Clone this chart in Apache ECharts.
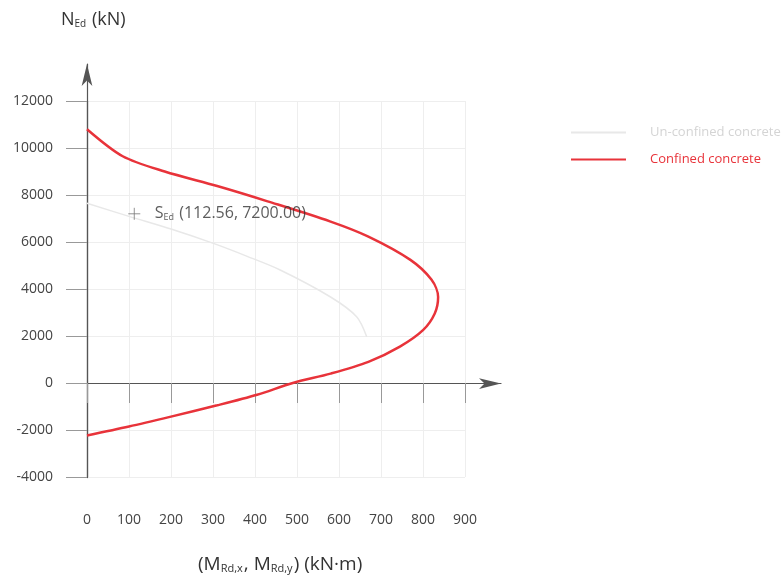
<!DOCTYPE html>
<html>
<head>
<meta charset="utf-8">
<script src="https://cdn.jsdelivr.net/npm/echarts@6/dist/echarts.min.js"></script>
<style>
html,body{margin:0;padding:0;background:#fff;}
#c{width:781px;height:580px;}
</style>
</head>
<body>
<div id="c"></div>
<script>
// Data (M in kN·m, N in kN)
const confinedM = [0, 85, 185, 310, 430, 580, 670, 770, 820, 836, 828, 800, 745, 670, 580, 490, 405, 310, 200, 100, 0];
const confinedN = [10800, 9650, 9000, 8380, 7730, 6870, 6230, 5240, 4400, 3660, 2960, 2250, 1550, 900, 400, 0, -500, -950, -1430, -1850, -2230];
const unconfinedM = [0, 102, 200, 301, 380, 460, 579, 642, 666];
const unconfinedN = [7650, 7080, 6550, 5940, 5400, 4810, 3670, 2820, 1970];
const pointSEd = [112.56, 7200.00];
const xTicks = [0, 100, 200, 300, 400, 500, 600, 700, 800, 900];
const yTicks = [-4000, -2000, 0, 2000, 4000, 6000, 8000, 10000, 12000];
const seriesNames = ['Un-confined concrete', 'Confined concrete'];

const zip = (a, b) => a.map((v, i) => [v, b[i]]);
const FONT = '"Open Sans", "Noto Sans", sans-serif';

const chart = echarts.init(document.getElementById('c'), null, {renderer: 'canvas'});
chart.setOption({
  backgroundColor: '#fff',
  animation: false,
  textStyle: {fontFamily: FONT},
  title: [
    {
      left: 56, top: 6,
      text: 'N{sub|Ed} (kN)',
      textStyle: {
        fontFamily: FONT, fontSize: 18, fontWeight: 'normal', color: '#333',
        rich: {sub: {fontSize: 10, fontFamily: FONT, color: '#333', verticalAlign: 'bottom', padding: [7, 1, 0, 0]}}
      }
    },
    {
      left: 193, top: 550,
      text: '(M{sub|Rd,x}, M{sub|Rd,y}) (kN·m)',
      textStyle: {
        fontFamily: FONT, fontSize: 19, fontWeight: 'normal', color: '#333',
        rich: {sub: {fontSize: 11, fontFamily: FONT, color: '#333', verticalAlign: 'bottom', padding: [7, 1, 0, 0]}}
      }
    }
  ],
  legend: {
    orient: 'vertical',
    left: 565, top: 121,
    itemWidth: 55, itemHeight: 14, itemGap: 14,
    itemStyle: {opacity: 0},
    textStyle: {fontSize: 13, fontFamily: FONT, padding: [0, 0, 0, 19]},
    data: [
      {name: seriesNames[0], textStyle: {color: '#d4d4d4'}},
      {name: seriesNames[1], textStyle: {color: '#e8333a'}}
    ]
  },
  grid: [
    {left: 87, top: 101, width: 378, height: 376, containLabel: false},
    {left: 87, top: 64, width: 414, height: 413.6, containLabel: false}
  ],
  xAxis: [
    {
      gridIndex: 0, type: 'value', min: 0, max: 900, interval: 100,
      axisLine: {show: false},
      axisTick: {show: true, length: 20, lineStyle: {color: '#999'}},
      axisLabel: {margin: 36, fontSize: 14, color: '#444', fontFamily: FONT, formatter: v => String(v)},
      splitLine: {show: true, lineStyle: {color: '#eeeeee', width: 1}}
    },
    {
      gridIndex: 1, type: 'value', min: 0, max: 1000,
      axisLine: {show: true, onZero: true, symbol: ['none', 'arrow'], symbolSize: [8, 22], lineStyle: {color: '#555', width: 1.2}},
      axisTick: {show: false}, axisLabel: {show: false}, splitLine: {show: false}
    }
  ],
  yAxis: [
    {
      gridIndex: 0, type: 'value', min: -4000, max: 12000, interval: 2000,
      axisLine: {show: true, onZero: false, lineStyle: {color: '#555', width: 1.2}},
      axisTick: {show: true, length: 21, lineStyle: {color: '#999'}},
      axisLabel: {margin: 34, fontSize: 14, color: '#444', fontFamily: FONT, formatter: v => String(v)},
      splitLine: {show: true, lineStyle: {color: '#eeeeee', width: 1}}
    },
    {
      gridIndex: 1, type: 'value', min: -4000, max: 13600,
      axisLine: {show: true, onZero: false, symbol: ['none', 'arrow'], symbolSize: [8, 22], lineStyle: {color: '#555', width: 1.2}},
      axisTick: {show: false}, axisLabel: {show: false}, splitLine: {show: false}
    }
  ],
  series: [
    {
      name: seriesNames[0], type: 'line', xAxisIndex: 0, yAxisIndex: 0,
      data: zip(unconfinedM, unconfinedN),
      symbol: 'none', smooth: 0.3,
      lineStyle: {color: '#e8e8e8', width: 1.5},
      itemStyle: {color: '#e8e8e8'},
      z: 2
    },
    {
      name: seriesNames[1], type: 'line', xAxisIndex: 0, yAxisIndex: 0,
      data: zip(confinedM, confinedN),
      symbol: 'none', smooth: 0.3,
      lineStyle: {color: '#e8333a', width: 2.5},
      itemStyle: {color: '#e8333a'},
      z: 3
    },
    {
      name: 'SEd', type: 'scatter', xAxisIndex: 0, yAxisIndex: 0,
      data: [pointSEd],
      symbol: 'path://M0,5L10,5M5,0L5,10', symbolSize: 12,
      itemStyle: {color: 'none', borderColor: '#777', borderWidth: 1},
      label: {
        show: true, position: 'right', distance: 12,
        formatter: p => '{a|S}{sub|Ed}{a| (' + p.value[0].toFixed(2) + ', ' + p.value[1].toFixed(2) + ')}',
        rich: {
          a: {fontSize: 16, color: '#333', fontFamily: FONT},
          sub: {fontSize: 9, color: '#333', fontFamily: FONT, verticalAlign: 'bottom', padding: [6, 1, 0, 0]}
        }
      },
      z: 4
    }
  ]
});
</script>
</body>
</html>
